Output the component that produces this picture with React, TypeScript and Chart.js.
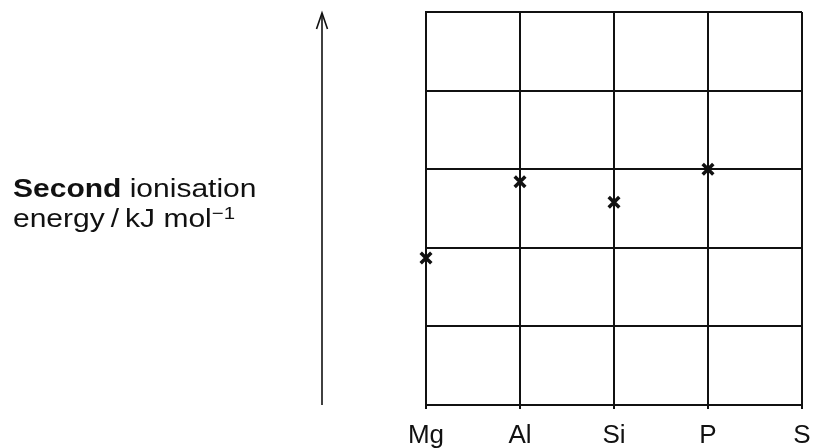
import React, { useEffect, useRef } from "react";
import { Chart, registerables } from "chart.js";

Chart.register(...registerables);

const elements = ["Mg", "Al", "Si", "P", "S"];
const positions = [0, 1, 2, 3];
const secondIE = [1.87, 2.84, 2.58, 3.0];
const yMin = 0;
const yMax = 5;

const FONT = "'Liberation Sans', Arial, Helvetica, sans-serif";
const INK = "#111";

const arrowPlugin = {
  id: "axisArrow",
  afterDraw(chart: any) {
    const ctx = chart.ctx;
    const yScale = chart.scales.y;
    const x = 322;
    const yBottom = yScale.getPixelForValue(yMin);
    const yTop = yScale.getPixelForValue(yMax) + 1;
    ctx.save();
    ctx.strokeStyle = INK;
    ctx.lineWidth = 1.6;
    ctx.beginPath();
    ctx.moveTo(x, yBottom);
    ctx.lineTo(x, yTop + 1);
    ctx.stroke();
    ctx.beginPath();
    ctx.moveTo(x - 5.5, yTop + 16);
    ctx.lineTo(x, yTop);
    ctx.lineTo(x + 5.5, yTop + 16);
    ctx.stroke();
    ctx.restore();
  },
};

export default function App() {
  const ref = useRef<HTMLCanvasElement | null>(null);

  useEffect(() => {
    if (!ref.current) return;
    const chart = new Chart(ref.current, {
      type: "scatter",
      data: {
        datasets: [
          {
            data: positions.map((p, i) => ({ x: p, y: secondIE[i] })),
            pointStyle: "crossRot",
            pointRadius: 7.5,
            pointHoverRadius: 7.5,
            borderWidth: 3.5,
            borderColor: INK,
            backgroundColor: INK,
            clip: false as any,
          },
        ],
      },
      options: {
        animation: false,
        responsive: false,
        devicePixelRatio: 1,
        layout: { padding: { left: 426, top: 12, right: 10, bottom: 0 } },
        plugins: {
          legend: { display: false },
          tooltip: { enabled: false },
        },
        scales: {
          x: {
            type: "linear",
            min: 0,
            max: elements.length - 1,
            afterFit: (s: any) => {
              s.height = 43;
              s.paddingLeft = 0;
              s.paddingRight = 0;
            },
            ticks: {
              stepSize: 1,
              autoSkip: false,
              maxRotation: 0,
              padding: 11,
              color: INK,
              font: { family: FONT, size: 26 },
              callback: (v: any) => elements[Number(v)] ?? "",
            },
            grid: { color: INK, lineWidth: 2, tickLength: 4 },
            border: { color: INK, width: 2 },
          },
          y: {
            type: "linear",
            min: yMin,
            max: yMax,
            afterFit: (s: any) => {
              s.width = 0;
            },
            ticks: { stepSize: 1, display: false },
            grid: { color: INK, lineWidth: 2, tickLength: 0 },
            border: { color: INK, width: 2 },
          },
        },
      },
      plugins: [arrowPlugin],
    });
    return () => chart.destroy();
  }, []);

  return (
    <div style={{ position: "absolute", left: 0, top: 0, width: 813, height: 448, background: "#fff" }}>
      <canvas ref={ref} width={813} height={448} style={{ position: "absolute", left: 0, top: 0 }} />
      <div
        style={{
          position: "absolute",
          left: 13,
          top: 173,
          fontFamily: FONT,
          fontSize: 25,
          lineHeight: "30px",
          color: INK,
          whiteSpace: "nowrap",
          transform: "scaleX(1.2)",
          transformOrigin: "left top",
        }}
      >
        <div>
          <b>Second</b> ionisation
        </div>
        <div>
          energy{"\u2009/\u2009"}kJ mol
          <span style={{ fontSize: "0.68em", position: "relative", top: "-0.5em" }}>−1</span>
        </div>
      </div>
    </div>
  );
}
